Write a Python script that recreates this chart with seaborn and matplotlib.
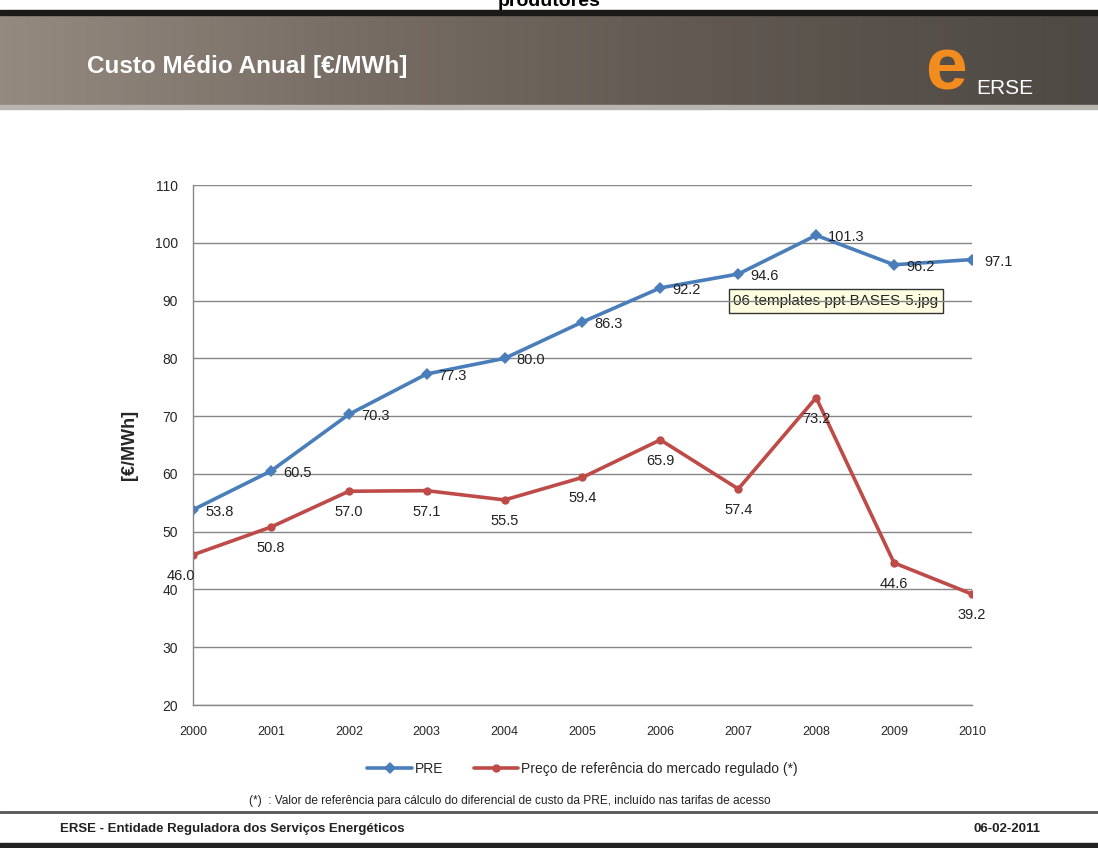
import numpy as np
import pandas as pd
import seaborn as sns
import matplotlib.pyplot as plt
from matplotlib.colors import LinearSegmentedColormap

# Dados do gráfico
years = [2000, 2001, 2002, 2003, 2004, 2005, 2006, 2007, 2008, 2009, 2010]
pre_values = [53.8, 60.5, 70.3, 77.3, 80.0, 86.3, 92.2, 94.6, 101.3, 96.2, 97.1]
ref_values = [46.0, 50.8, 57.0, 57.1, 55.5, 59.4, 65.9, 57.4, 73.2, 44.6, 39.2]
series_names = ["PRE", "Preço de referência do mercado regulado (*)"]
y_ticks = [20, 30, 40, 50, 60, 70, 80, 90, 100, 110]

df = pd.DataFrame({
    "ano": years * 2,
    "valor": pre_values + ref_values,
    "serie": [series_names[0]] * len(years) + [series_names[1]] * len(years),
})

sns.set_theme(style="white")
plt.rcParams["font.family"] = ["Liberation Sans", "DejaVu Sans"]

blue = "#4a7ebb"
red = "#be4b48"

fig = plt.figure(figsize=(10.98, 8.48), dpi=100)

# fundo / cabeçalho do slide
bg = fig.add_axes([0, 0, 1, 1])
bg.set_xlim(0, 1098)
bg.set_ylim(848, 0)
bg.axis("off")
grad = np.linspace(0, 1, 256).reshape(1, -1)
hcmap = LinearSegmentedColormap.from_list("hdr", ["#958a80", "#766c63", "#5f5750", "#4e4944"])
bg.imshow(grad, extent=[0, 1098, 107, 14], aspect="auto", cmap=hcmap, zorder=0)
bg.fill_between([0, 1098], 10, 15, color="#1c1a19", zorder=1)
bg.fill_between([0, 1098], 105, 109, color="#b8b4b0", zorder=1)
bg.text(549, 6, "produtores", ha="center", va="baseline", fontsize=14, fontweight="bold", color="black")
bg.text(87, 67, "Custo Médio Anual [€/MWh]", ha="left", va="center", fontsize=17.5,
        fontweight="bold", color="white")
bg.text(946, 70, "e", ha="center", va="center", fontsize=54, fontweight="bold", color="#f28c1e")
bg.text(1005, 88, "ERSE", ha="center", va="center", fontsize=15, color="white")

# rodapé
bg.plot([0, 1098], [812, 812], color="#555555", lw=2)
bg.fill_between([0, 1098], 843, 848, color="#222222")
bg.text(60, 829, "ERSE - Entidade Reguladora dos Serviços Energéticos", ha="left", va="center",
        fontsize=9.5, fontweight="bold", color="#222222")
bg.text(1040, 829, "06-02-2011", ha="right", va="center", fontsize=9.5, fontweight="bold", color="#222222")
bg.text(510, 801, "(*)  : Valor de referência para cálculo do diferencial de custo da PRE, incluído nas tarifas de acesso",
        ha="center", va="center", fontsize=8.6, color="#222222")

# gráfico
ax = fig.add_axes([0.1758, 0.1686, 0.7094, 0.6132])
ax.set_facecolor("none")
sns.lineplot(data=df, x="ano", y="valor", hue="serie", style="serie",
             palette=[blue, red], markers=["D", "o"], dashes=False,
             markersize=6, linewidth=2.6, markeredgewidth=0, ax=ax)

ax.set_xlim(2000, 2010)
ax.set_ylim(20, 110)
ax.set_xticks(years)
ax.set_yticks(y_ticks)
ax.tick_params(axis="x", direction="out", length=5, width=1, color="#868686", pad=10, labelsize=9)
ax.tick_params(axis="y", direction="out", length=5, width=1, color="#868686", pad=6, labelsize=10)
ax.grid(axis="y", color="#868686", lw=1)
ax.grid(axis="x", visible=False)
for s in ["top", "right"]:
    ax.spines[s].set_visible(False)
for s in ["left", "bottom"]:
    ax.spines[s].set_color("#868686")
    ax.spines[s].set_linewidth(1)
ax.set_xlabel("")
ax.set_ylabel("[€/MWh]", fontsize=13, fontweight="bold", labelpad=12)

for x, v in zip(years, pre_values):
    ax.annotate(f"{v:.1f}", (x, v), xytext=(12, -2), textcoords="offset pixels",
                ha="left", va="center", fontsize=10.5, color="#222222")
for i, (x, v) in enumerate(zip(years, ref_values)):
    dx = -12 if i == 0 else 0
    ax.annotate(f"{v:.1f}", (x, v), xytext=(dx, -21), textcoords="offset pixels",
                ha="center", va="center", fontsize=10.5, color="#222222")

# etiqueta flutuante
bg.text(836, 301, "06 templates ppt BASES-5.jpg", ha="center", va="center", fontsize=11,
        color="#222222", zorder=5,
        bbox=dict(boxstyle="square,pad=0.3", facecolor="#ffffe1", edgecolor="#333333", lw=1))

ax.legend(loc="upper center", bbox_to_anchor=(0.5, -0.085), ncol=2, frameon=False,
          fontsize=10, handlelength=3.2, columnspacing=2.2, handletextpad=0.2)

fig.savefig("out.png", dpi=100)
